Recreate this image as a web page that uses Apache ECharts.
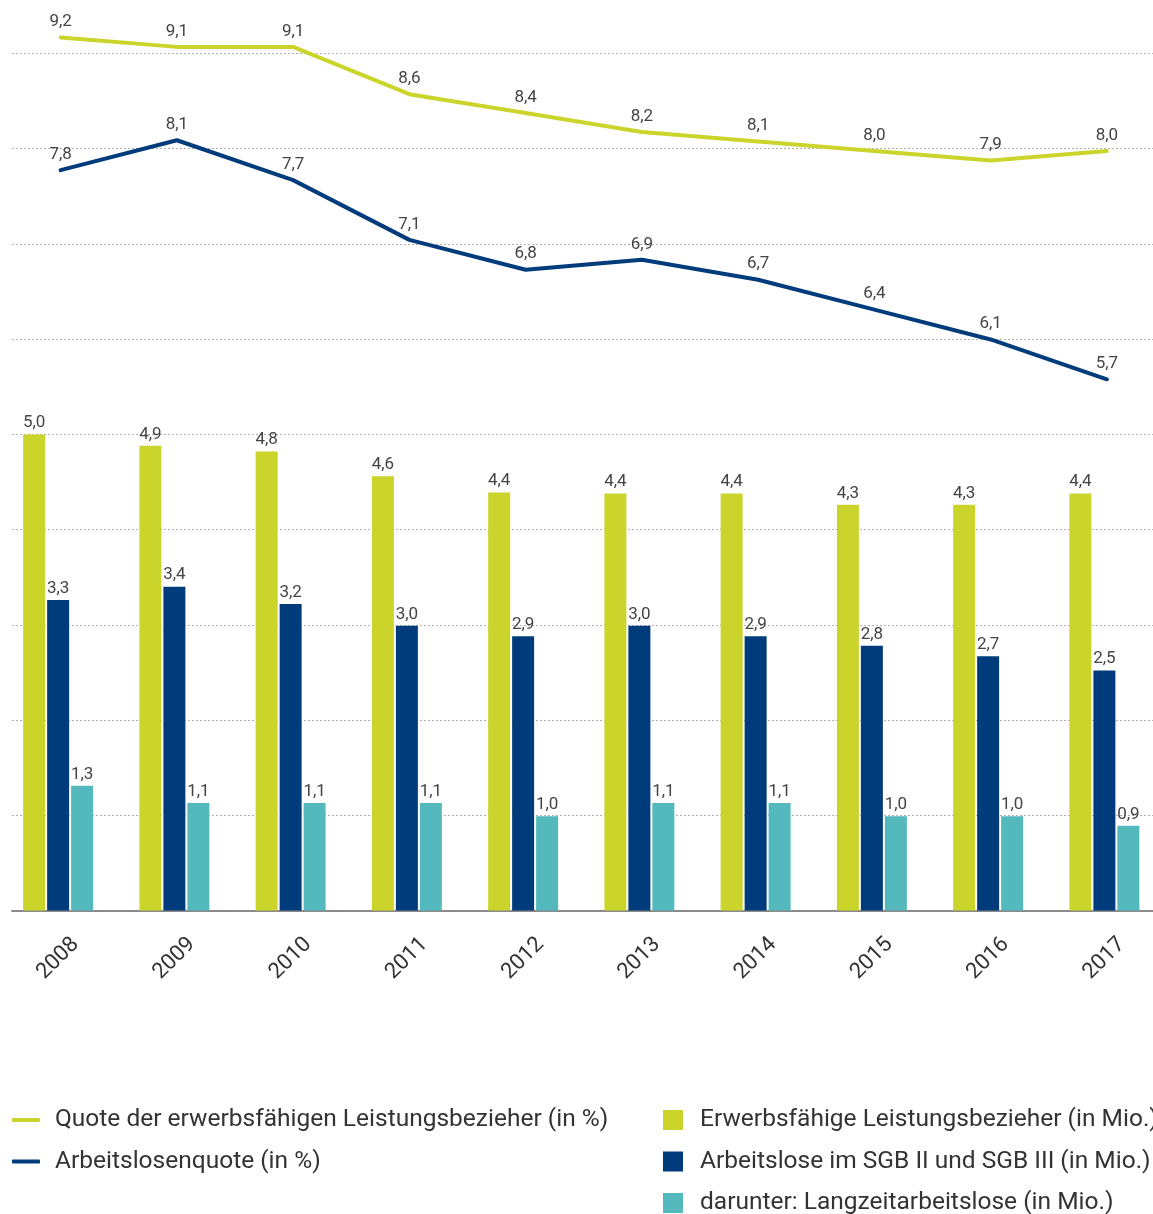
<!DOCTYPE html>
<html>
<head>
<meta charset="utf-8">
<script src="https://cdn.jsdelivr.net/npm/echarts@6/dist/echarts.min.js"></script>
<style>
html,body{margin:0;padding:0;background:#fff;}
#chart{width:1153px;height:1214px;}
</style>
</head>
<body>
<div id="chart"></div>
<script>
const years = ['2008','2009','2010','2011','2012','2013','2014','2015','2016','2017'];
// lines (in %)
const quoteLeistungsbezieher = [9.2, 9.1, 9.1, 8.6, 8.4, 8.2, 8.1, 8.0, 7.9, 8.0];
const arbeitslosenquote = [7.8, 8.1, 7.7, 7.1, 6.8, 6.9, 6.7, 6.4, 6.1, 5.7];
// bars (in Mio.)
const erwerbsfaehigeLB = [5.00, 4.88, 4.82, 4.56, 4.39, 4.38, 4.38, 4.26, 4.26, 4.38];
const arbeitslose = [3.26, 3.40, 3.22, 2.99, 2.88, 2.99, 2.88, 2.78, 2.67, 2.52];
const langzeitarbeitslose = [1.31, 1.13, 1.13, 1.13, 0.99, 1.13, 1.13, 0.99, 0.99, 0.89];

const names = {
  q: 'Quote der erwerbsfähigen Leistungsbezieher (in %)',
  a: 'Arbeitslosenquote (in %)',
  e: 'Erwerbsfähige Leistungsbezieher (in Mio.)',
  s: 'Arbeitslose im SGB II und SGB III (in Mio.)',
  l: 'darunter: Langzeitarbeitslose (in Mio.)'
};
const C_GREEN = '#cbd42b';
const C_BLUE = '#003b7b';
const C_TEAL = '#53b9bd';
const FONT = 'Roboto';
const fmt = p => p.value.toFixed(1).replace('.', ',');

const chart = echarts.init(document.getElementById('chart'), null, {renderer: 'canvas'});
const barLabel = {show: true, position: 'top', distance: 3, color: '#444', fontSize: 17, fontFamily: FONT, formatter: fmt};
const lineLabel = {show: true, position: 'top', distance: 6, color: '#444', fontSize: 17, fontFamily: FONT, formatter: fmt};

chart.setOption({
  animation: false,
  textStyle: {fontFamily: FONT},
  grid: [
    {left: 12, right: 0, top: 53.5, bottom: 303.5, outerBoundsMode: 'none'},
    {left: 0, width: 1162.5, top: 53.5, bottom: 303.5, outerBoundsMode: 'none'},
    {left: 2.5, width: 1162.5, top: 53.5, bottom: 303.5, outerBoundsMode: 'none'}
  ],
  xAxis: [
    {gridIndex: 0, type: 'value', min: 0, max: 1, axisLabel: {show: false}, axisTick: {show: false}, splitLine: {show: false},
      axisLine: {show: true, lineStyle: {color: '#8a8a8a', width: 2}}},
    {gridIndex: 1, type: 'category', data: years, axisLine: {show: false}, axisTick: {show: false},
      axisLabel: {rotate: 45, align: 'center', verticalAlign: 'middle', margin: 48, fontSize: 22, color: '#333', fontFamily: FONT}},
    {gridIndex: 2, type: 'category', data: years, show: false}
  ],
  yAxis: [
    {gridIndex: 0, type: 'value', min: 0, max: 9, interval: 1, axisLabel: {show: false}, axisLine: {show: false}, axisTick: {show: false},
      splitLine: {show: true, lineStyle: {color: '#b0b0b0', width: 1, type: [2, 2]}}},
    {gridIndex: 1, type: 'value', min: 0, max: 9, show: false},
    {gridIndex: 2, type: 'value', min: -0.03, max: 9.03, show: false},
    {gridIndex: 2, type: 'value', min: 0.367, max: 8.971, show: false}
  ],
  legend: [
    {orient: 'vertical', left: 12, top: 1107, height: 150, padding: 0, icon: 'roundRect', itemWidth: 28, itemHeight: 4, itemGap: 15.5,
      textStyle: {fontSize: 24.5, color: '#333', fontFamily: FONT, lineHeight: 26, padding: [0, 0, 0, 10]},
      data: [names.q, names.a], selectedMode: false},
    {orient: 'vertical', left: 663, top: 1107, height: 150, padding: 0, icon: 'rect', itemWidth: 20, itemHeight: 20, itemGap: 15.5,
      textStyle: {fontSize: 24.5, color: '#333', fontFamily: FONT, lineHeight: 26, padding: [0, 0, 0, 12]},
      data: [names.e, names.s, names.l], selectedMode: false}
  ],
  series: [
    {name: names.e, type: 'bar', xAxisIndex: 1, yAxisIndex: 1, data: erwerbsfaehigeLB, barWidth: 22, barGap: '9%',
      itemStyle: {color: C_GREEN}, label: barLabel, emphasis: {disabled: true}},
    {name: names.s, type: 'bar', xAxisIndex: 1, yAxisIndex: 1, data: arbeitslose, barWidth: 22, barGap: '9%',
      itemStyle: {color: C_BLUE}, label: barLabel, emphasis: {disabled: true}},
    {name: names.l, type: 'bar', xAxisIndex: 1, yAxisIndex: 1, data: langzeitarbeitslose, barWidth: 22, barGap: '9%',
      itemStyle: {color: C_TEAL}, label: barLabel, emphasis: {disabled: true}},
    {name: names.q, type: 'line', xAxisIndex: 2, yAxisIndex: 2, data: quoteLeistungsbezieher, clip: false,
      symbol: 'circle', symbolSize: 2, showSymbol: true, itemStyle: {color: C_GREEN},
      lineStyle: {color: C_GREEN, width: 4, cap: 'round', join: 'round'}, label: lineLabel, emphasis: {disabled: true}},
    {name: names.a, type: 'line', xAxisIndex: 2, yAxisIndex: 3, data: arbeitslosenquote, clip: false,
      symbol: 'circle', symbolSize: 2, showSymbol: true, itemStyle: {color: C_BLUE},
      lineStyle: {color: C_BLUE, width: 4, cap: 'round', join: 'round'}, label: lineLabel, emphasis: {disabled: true}}
  ]
});
</script>
</body>
</html>
